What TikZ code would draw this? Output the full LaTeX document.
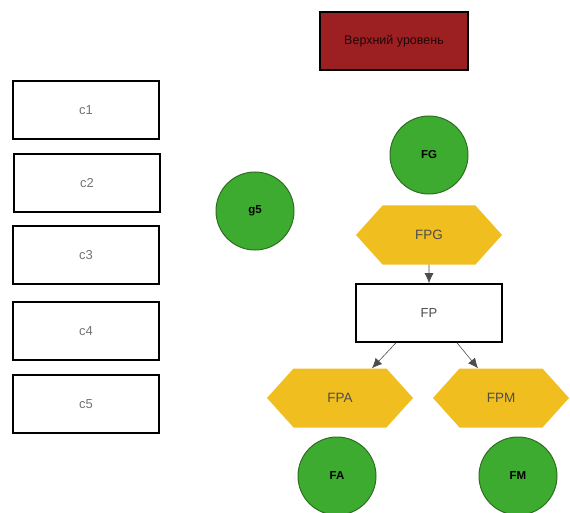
\documentclass[tikz,border=0pt]{standalone}
\usepackage{fontspec}
\setmainfont{Liberation Sans}
\usepackage{tikz}
\usetikzlibrary{arrows.meta,positioning,shapes.symbols}
\definecolor{topred}{HTML}{9C1F22}
\definecolor{leafgreen}{HTML}{3DAB2F}
\definecolor{leafedge}{HTML}{2E6E22}
\definecolor{hexyellow}{HTML}{F0BF1F}
\begin{document}
\begin{tikzpicture}[x=1pt,y=-1pt,>=Latex,
plain box/.style={draw,line width=1.6pt,minimum width=146pt,minimum height=58pt,inner sep=0pt,font=\fontsize{13}{15}\selectfont,text=black!55},
level box/.style={plain box,fill=topred,line width=1.2pt,minimum width=148pt,font=\fontsize{12.5}{15}\selectfont,text=black!80!topred},
leaf/.style={circle,draw=leafedge,line width=1pt,fill=leafgreen,minimum size=78pt,inner sep=0pt,font=\bfseries\fontsize{11.5}{14}\selectfont},
func hex/.style={signal,signal to=east and west,signal pointer angle=96,fill=hexyellow,minimum width=146pt,minimum height=59pt,inner sep=0pt,font=\fontsize{13.5}{16}\selectfont,text=black!70},
flow/.style={-{Latex[length=10pt,width=9pt]},line width=0.6pt,draw=black!70}]
\useasboundingbox (0,0) rectangle (570,513);
\node[level box] (top) at (394,41) {Верхний уровень};
\node[plain box] (c1) at (86,110) {c1};
\node[plain box] (c2) at (87,183) {c2};
\node[plain box] (c3) at (86,255) {c3};
\node[plain box] (c4) at (86,331) {c4};
\node[plain box] (c5) at (86,404) {c5};
\node[leaf] (g5) at (255,211) {g5};
\node[leaf] (fg) at (429,155) {FG};
\node[func hex] (fpg) at (429,235) {FPG};
\node[plain box,text=black!70] (fp) at (429,313) {FP};
\node[func hex] (fpa) at (340,398) {FPA};
\node[func hex,minimum width=136pt] (fpm) at (501,398) {FPM};
\node[leaf] (fa) at (337,476) {FA};
\node[leaf] (fm) at (518,476) {FM};
\draw[flow] (fpg) -- (fp);
\draw[flow] (fp.south-|396,0) -- (fpa.north-|372,0);
\draw[flow] (fp.south-|457,0) -- (fpm.north-|478,0);
\end{tikzpicture}
\end{document}
